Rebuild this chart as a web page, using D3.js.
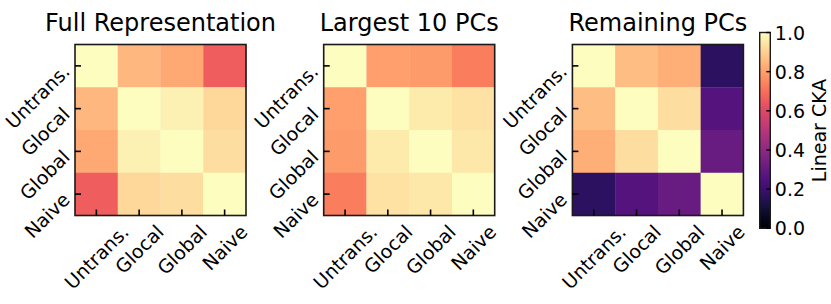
<!DOCTYPE html>
<html>
<head>
<meta charset="utf-8">
<script src="https://cdn.jsdelivr.net/npm/d3@7"></script>
<style>
  html, body { margin: 0; padding: 0; background: #fff; }
  svg { display: block; }
  text { font-family: "DejaVu Sans", sans-serif; fill: #000; }
</style>
</head>
<body>
<svg id="chart" width="831" height="304"></svg>
<script>
// ---- data ----
const categories = ["Untrans.", "Glocal", "Global", "Naive"];
const panelTitles = ["Full Representation", "Largest 10 PCs", "Remaining PCs"];
// rows top->bottom, cols left->right (same category order)
const fullRepresentation = [
  [1.00, 0.85, 0.82, 0.66],
  [0.85, 1.00, 0.97, 0.92],
  [0.82, 0.97, 1.00, 0.93],
  [0.66, 0.92, 0.93, 1.00]
];
const largest10PCs = [
  [1.00, 0.80, 0.79, 0.73],
  [0.80, 1.00, 0.96, 0.94],
  [0.79, 0.96, 1.00, 0.95],
  [0.73, 0.94, 0.95, 1.00]
];
const remainingPCs = [
  [1.00, 0.86, 0.83, 0.17],
  [0.86, 1.00, 0.93, 0.26],
  [0.83, 0.93, 1.00, 0.31],
  [0.17, 0.26, 0.31, 1.00]
];
const colorbarTicks = [0.0, 0.2, 0.4, 0.6, 0.8, 1.0];
const colorbarLabel = "Linear CKA";

// ---- layout ----
const svg = d3.select("#chart");
const panelLeft = [75, 323.7, 572.4];
const axTop = 44.5, size = 171;
const tickFont = 19, titleFont = 24;
const matrices = [fullRepresentation, largest10PCs, remainingPCs];
const color = d3.scaleSequential(d3.interpolateMagma).domain([0, 1]);

matrices.forEach((m, p) => {
  const g = svg.append("g").attr("transform", `translate(${panelLeft[p]},${axTop})`);
  const x = d3.scaleBand().domain(categories).range([0, size]);
  const y = d3.scaleBand().domain(categories).range([0, size]);
  const cells = [];
  m.forEach((row, i) => row.forEach((v, j) => cells.push({ r: categories[i], c: categories[j], v })));
  g.selectAll("rect.cell").data(cells).join("rect")
    .attr("class", "cell")
    .attr("x", d => x(d.c)).attr("y", d => y(d.r))
    .attr("width", x.bandwidth() + 0.3).attr("height", y.bandwidth() + 0.3)
    .attr("fill", d => color(d.v));
  // frame
  g.append("rect").attr("width", size).attr("height", size)
    .attr("fill", "none").attr("stroke", "#1a1a1a").attr("stroke-width", 1.6);
  // inward ticks
  const tl = 6;
  categories.forEach(c => {
    const cx = x(c) + x.bandwidth() / 2;
    g.append("line").attr("x1", cx).attr("x2", cx).attr("y1", size).attr("y2", size - tl)
      .attr("stroke", "#000").attr("stroke-width", 1.6);
    const cy = y(c) + y.bandwidth() / 2;
    g.append("line").attr("x1", 0).attr("x2", tl).attr("y1", cy).attr("y2", cy)
      .attr("stroke", "#000").attr("stroke-width", 1.6);
  });
  // y tick labels (rotated 45, ending at tick)
  categories.forEach(c => {
    const cy = y(c) + y.bandwidth() / 2;
    g.append("text")
      .attr("transform", `translate(${-9},${cy + 2}) rotate(-45)`)
      .attr("text-anchor", "end").attr("dominant-baseline", "central")
      .style("font-size", tickFont + "px").text(c);
  });
  // x tick labels (rotated 45, bbox centered on tick, top below axis)
  const H = tickFont * 1.164;
  categories.forEach(c => {
    const cx = x(c) + x.bandwidth() / 2;
    const t = g.append("text")
      .attr("text-anchor", "middle").attr("dominant-baseline", "central")
      .style("font-size", tickFont + "px").text(c);
    const w = t.node().getComputedTextLength();
    const half = (w + H) * Math.SQRT1_2 / 2;
    t.attr("transform", `translate(${cx},${size + 5 + half}) rotate(-45)`);
  });
  // title
  g.append("text").attr("x", size / 2).attr("y", 31 - axTop)
    .attr("text-anchor", "middle").style("font-size", titleFont + "px")
    .text(panelTitles[p]);
});

// ---- colorbar ----
const cbX = 759.7, cbW = 10.6, cbTop = 32.5, cbBot = 228.3;
const defs = svg.append("defs");
const grad = defs.append("linearGradient").attr("id", "cbgrad")
  .attr("x1", "0").attr("y1", "1").attr("x2", "0").attr("y2", "0");
d3.range(0, 1.0001, 0.02).forEach(t => {
  grad.append("stop").attr("offset", t).attr("stop-color", color(t));
});
svg.append("rect").attr("x", cbX).attr("y", cbTop).attr("width", cbW).attr("height", cbBot - cbTop)
  .attr("fill", "url(#cbgrad)").attr("stroke", "#1a1a1a").attr("stroke-width", 1.4);
const cbScale = d3.scaleLinear().domain([0, 1]).range([cbBot, cbTop]);
colorbarTicks.forEach(v => {
  const yy = cbScale(v);
  svg.append("line").attr("x1", cbX + cbW).attr("x2", cbX + cbW - 4).attr("y1", yy).attr("y2", yy)
    .attr("stroke", "#000").attr("stroke-width", 1.4);
  svg.append("text").attr("x", cbX + cbW + 4.5).attr("y", yy)
    .attr("dominant-baseline", "central").style("font-size", tickFont + "px")
    .text(d3.format(".1f")(v));
});
svg.append("text")
  .attr("transform", `translate(${826},${(cbTop + cbBot) / 2}) rotate(-90)`)
  .attr("text-anchor", "middle").style("font-size", tickFont + "px")
  .text(colorbarLabel);
</script>
</body>
</html>
